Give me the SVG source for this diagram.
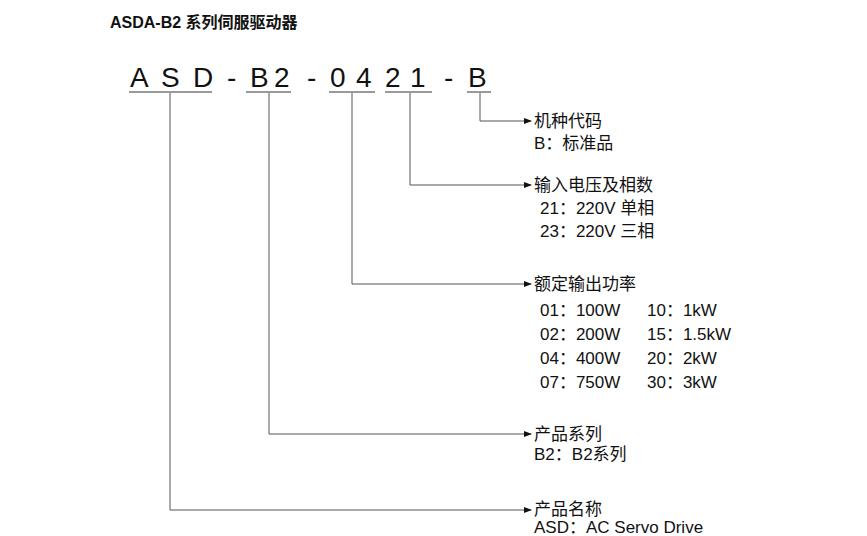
<svg xmlns="http://www.w3.org/2000/svg" width="867" height="536" viewBox="0 0 867 536">
<style>
text{font-family:"Liberation Sans","Noto Sans CJK SC",sans-serif;fill:#111}
.big{font-size:28px}
.lb{font-size:17px}
.ul{stroke:#777;stroke-width:1.5}
.c{stroke:#555;stroke-width:1;fill:none}
</style>
<defs><marker id="a" markerWidth="8" markerHeight="8" refX="7" refY="4" orient="auto" markerUnits="userSpaceOnUse"><path d="M0,1 L8,4 L0,7z" fill="#111"/></marker></defs>
<rect width="867" height="536" fill="#fff"/>
<text x="110" y="28" font-size="16" font-weight="bold">ASDA-B2 系列伺服驱动器</text>
<g id="code">
<text class="big" y="87"><tspan x="130">A</tspan><tspan x="161">S</tspan><tspan x="193">D</tspan><tspan x="227">-</tspan><tspan x="250">B</tspan><tspan x="274">2</tspan><tspan x="307">-</tspan><tspan x="330">0</tspan><tspan x="356">4</tspan><tspan x="385">2</tspan><tspan x="410">1</tspan><tspan x="444">-</tspan><tspan x="468">B</tspan></text>
<line class="ul" x1="129" y1="92" x2="212" y2="92"/>
<line class="ul" x1="246" y1="92" x2="291" y2="92"/>
<line class="ul" x1="329" y1="92" x2="375" y2="92"/>
<line class="ul" x1="385" y1="92" x2="432" y2="92"/>
<line class="ul" x1="467" y1="92" x2="491" y2="92"/>
</g>
<g id="connectors">
<polyline class="c" points="480,93 480,121 531,121" marker-end="url(#a)"/>
<polyline class="c" points="410,93 410,185 531,185" marker-end="url(#a)"/>
<polyline class="c" points="352,93 352,284 531,284" marker-end="url(#a)"/>
<polyline class="c" points="269,93 269,434 531,434" marker-end="url(#a)"/>
<polyline class="c" points="170,93 170,510 531,510" marker-end="url(#a)"/>
</g>
<g id="n1"><text x="534" y="127" class="lb">机种代码</text><text x="534" y="149" class="lb">B：标准品</text></g>
<g id="n2"><text x="534" y="191" class="lb">输入电压及相数</text><text x="540" y="214" class="lb">21：220V 单相</text><text x="540" y="237" class="lb">23：220V 三相</text></g>
<g id="n3"><text x="534" y="290" class="lb">额定输出功率</text>
<text x="540" y="316" class="lb">01：100W</text><text x="647" y="316" class="lb">10：1kW</text>
<text x="540" y="340" class="lb">02：200W</text><text x="647" y="340" class="lb">15：1.5kW</text>
<text x="540" y="364" class="lb">04：400W</text><text x="647" y="364" class="lb">20：2kW</text>
<text x="540" y="388" class="lb">07：750W</text><text x="647" y="388" class="lb">30：3kW</text></g>
<g id="n4"><text x="534" y="440" class="lb">产品系列</text><text x="534" y="460" class="lb">B2：B2系列</text></g>
<g id="n5"><text x="534" y="515" class="lb">产品名称</text><text x="534" y="533" class="lb">ASD：AC Servo Drive</text></g>
</svg>
